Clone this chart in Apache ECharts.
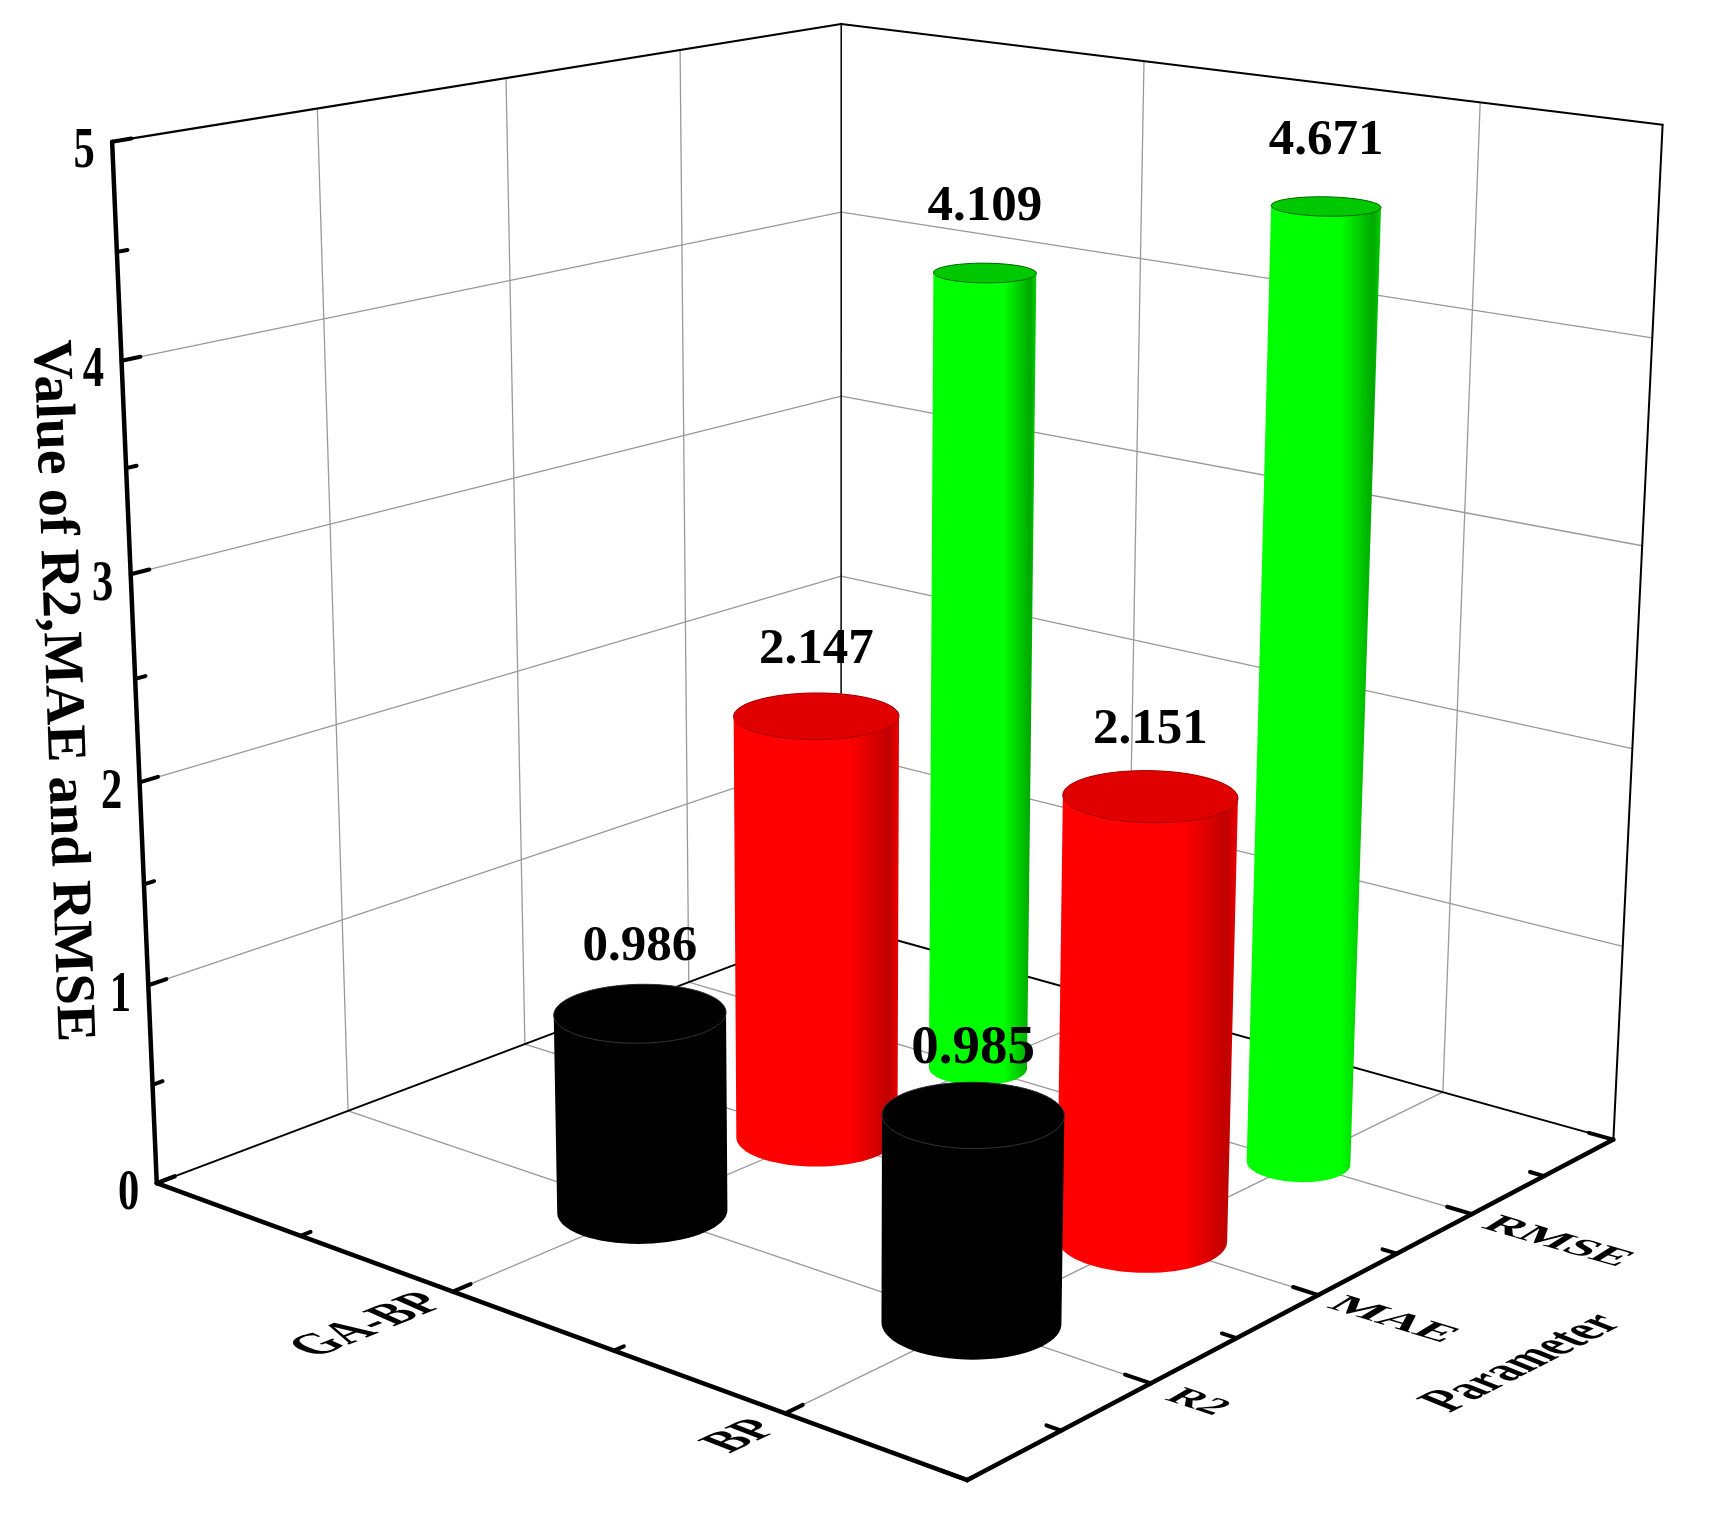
<!DOCTYPE html>
<html>
<head>
<meta charset="utf-8">
<title>Value of R2, MAE and RMSE</title>
<script src="https://cdn.jsdelivr.net/npm/echarts@6/dist/echarts.min.js"></script>
<style>
html, body { margin: 0; padding: 0; background: #fff; }
#chart { width: 1720px; height: 1515px; }
</style>
</head>
<body>
<div id="chart"></div>
<script>
// data
var categories = ['GA-BP', 'BP'];
var parameters = ['R2', 'MAE', 'RMSE'];
var r2Values = [0.986, 0.985];
var maeValues = [2.147, 2.151];
var rmseValues = [4.109, 4.671];
var valueTicks = [0, 1, 2, 3, 4, 5];

// axis ranges of the box
var xMax = 2.5, dMax = 4, hMax = 5;
var FONT = '"Liberation Serif", "Times New Roman", serif';

// echarts has no 3d axes without GL, so the box is a pinhole camera fitted to
// where its corners sit in the picture: [x, depth, height, px, py]
var anchors = [
    [0, 0, 0, 156.5, 1183], [2.5, 0, 0, 968, 1481], [2.5, 4, 0, 1614, 1139], [0, 4, 0, 841, 925],
    [0, 0, 5, 112, 141], [0, 4, 5, 841, 24], [2.5, 4, 5, 1663, 125],
    [0, 0, 4, 122, 361], [2.5, 4, 4, 1652, 338], [0, 4, 4, 841, 212],
    [1, 0, 0, 454, 1292], [2, 0, 0, 784, 1413],
    [2.5, 1, 0, 1150, 1383], [2.5, 2, 0, 1318.6, 1295], [2.5, 3, 0, 1472, 1214]
];

function solve(A, b) {
    var n = b.length, i, j, k;
    for (i = 0; i < n; i++) {
        var best = i;
        for (j = i + 1; j < n; j++) if (Math.abs(A[j][i]) > Math.abs(A[best][i])) best = j;
        var t = A[i]; A[i] = A[best]; A[best] = t;
        t = b[i]; b[i] = b[best]; b[best] = t;
        for (j = i + 1; j < n; j++) {
            var f = A[j][i] / A[i][i];
            for (k = i; k < n; k++) A[j][k] -= f * A[i][k];
            b[j] -= f * b[i];
        }
    }
    var out = [];
    for (i = n - 1; i >= 0; i--) {
        var s = b[i];
        for (k = i + 1; k < n; k++) s -= A[i][k] * out[k];
        out[i] = s / A[i][i];
    }
    return out;
}

function fitCamera() {
    var N = [], r = [], i, j;
    for (i = 0; i < 11; i++) { N.push(new Array(11).fill(0)); r.push(0); }
    function add(row, val) {
        for (var a = 0; a < 11; a++) {
            r[a] += row[a] * val;
            for (var c = 0; c < 11; c++) N[a][c] += row[a] * row[c];
        }
    }
    anchors.forEach(function (q) {
        var X = q[0] / xMax, Y = q[1] / dMax, Z = q[2] / hMax, u = q[3] / 1000, v = q[4] / 1000;
        add([X, Y, Z, 1, 0, 0, 0, 0, -u * X, -u * Y, -u * Z], u);
        add([0, 0, 0, 0, X, Y, Z, 1, -v * X, -v * Y, -v * Z], v);
    });
    return solve(N, r);
}
var cam = fitCamera();

function project(x, d, h) {
    var X = x / xMax, Y = d / dMax, Z = h / hMax;
    var w = cam[8] * X + cam[9] * Y + cam[10] * Z + 1;
    return [
        1000 * (cam[0] * X + cam[1] * Y + cam[2] * Z + cam[3]) / w,
        1000 * (cam[4] * X + cam[5] * Y + cam[6] * Z + cam[7]) / w
    ];
}

function line3(a, b, color, width) {
    var p = project(a[0], a[1], a[2]), q = project(b[0], b[1], b[2]);
    return {
        type: 'line',
        shape: { x1: p[0], y1: p[1], x2: q[0], y2: q[1] },
        style: { stroke: color, lineWidth: width, lineCap: 'round' }
    };
}

function label(text, x, y, size, rot, sx, sy, skew) {
    return {
        type: 'text', x: x, y: y, rotation: (rot || 0) * Math.PI / 180,
        scaleX: sx || 1, scaleY: sy || 1, skewX: (skew || 0) * Math.PI / 180,
        style: {
            text: text, fill: '#000', font: 'bold ' + size + 'px ' + FONT,
            textAlign: 'center', textVerticalAlign: 'middle'
        }
    };
}

function renderFrame() {
    var kids = [], GRID = '#999999', v, p;
    // walls and floor grid
    valueTicks.slice(1, 5).forEach(function (h) {
        kids.push(line3([0, 0, h], [0, dMax, h], GRID, 1.3));
        kids.push(line3([0, dMax, h], [xMax, dMax, h], GRID, 1.3));
    });
    parameters.forEach(function (n, i) {
        kids.push(line3([0, i + 1, 0], [0, i + 1, hMax], GRID, 1.3));
        kids.push(line3([0, i + 1, 0], [xMax, i + 1, 0], GRID, 1.3));
    });
    categories.forEach(function (n, i) {
        kids.push(line3([i + 1, dMax, 0], [i + 1, dMax, hMax], GRID, 1.3));
        kids.push(line3([i + 1, 0, 0], [i + 1, dMax, 0], GRID, 1.3));
    });
    // box edges
    kids.push(line3([0, 0, 0], [0, dMax, 0], '#000', 2));
    kids.push(line3([0, dMax, 0], [xMax, dMax, 0], '#000', 2));
    kids.push(line3([0, dMax, 0], [0, dMax, hMax], '#000', 1.5));
    kids.push(line3([xMax, dMax, 0], [xMax, dMax, hMax], '#000', 2));
    kids.push(line3([0, 0, hMax], [0, dMax, hMax], '#000', 2.2));
    kids.push(line3([0, dMax, hMax], [xMax, dMax, hMax], '#000', 2));
    // thick axes
    kids.push(line3([0, 0, 0], [0, 0, hMax], '#000', 4.5));
    kids.push(line3([0, 0, 0], [xMax, 0, 0], '#000', 4.5));
    kids.push(line3([xMax, 0, 0], [xMax, dMax, 0], '#000', 4.5));
    // ticks
    for (v = 0; v <= hMax; v += 0.5) {
        kids.push(line3([0, 0, v], [0, v % 1 ? 0.05 : 0.09, v], '#000', 4));
    }
    for (v = 0; v <= xMax; v += 0.5) {
        kids.push(line3([v, 0, 0], [v, v % 1 ? 0.05 : 0.09, 0], '#000', 4));
    }
    for (v = 0; v <= dMax; v += 0.5) {
        kids.push(line3([xMax, v, 0], [xMax - (v % 1 ? 0.04 : 0.07), v, 0], '#000', 4));
    }
    // tick labels, the floor ones are sheared to lie along the floor
    valueTicks.forEach(function (h) {
        p = project(0, 0, h);
        kids.push(label(String(h), p[0] - 28, p[1] + 11, 56, 0, 0.76, 1));
    });
    p = project(1, 0, 0);
    kids.push(label(categories[0], p[0] - 84, p[1] + 34, 39, 22, 1.18, 1, 44));
    p = project(2, 0, 0);
    kids.push(label(categories[1], p[0] - 43, p[1] + 23, 39, 25, 1.15, 1, 44));
    p = project(xMax, 1, 0);
    kids.push(label(parameters[0], p[0] + 46, p[1] + 19, 29, -18, 1.5, 0.95, -42));
    p = project(xMax, 2, 0);
    kids.push(label(parameters[1], p[0] + 74, p[1] + 25, 29, -17, 1.82, 0.95, -42));
    p = project(xMax, 3, 0);
    kids.push(label(parameters[2], p[0] + 85, p[1] + 28, 29, -16, 1.72, 0.95, -42));
    // axis titles
    kids.push(label('Value of R2,MAE and RMSE', 61, 691, 56, -88, 1, 1));
    kids.push(label('Parameter', 1523, 1363, 43, 27, 1, 1, 41));
    return { type: 'group', children: kids };
}

function hull(points) {
    var pts = points.slice().sort(function (a, b) { return a[0] - b[0] || a[1] - b[1]; });
    function cross(o, a, b) { return (a[0] - o[0]) * (b[1] - o[1]) - (a[1] - o[1]) * (b[0] - o[0]); }
    var lo = [], up = [], i;
    for (i = 0; i < pts.length; i++) {
        while (lo.length > 1 && cross(lo[lo.length - 2], lo[lo.length - 1], pts[i]) <= 0) lo.pop();
        lo.push(pts[i]);
    }
    for (i = pts.length - 1; i >= 0; i--) {
        while (up.length > 1 && cross(up[up.length - 2], up[up.length - 1], pts[i]) <= 0) up.pop();
        up.push(pts[i]);
    }
    return lo.slice(0, -1).concat(up.slice(0, -1));
}

// one look per parameter: R2, MAE, RMSE
var barRadius = [0.08, 0.079, 0.05];
var barSide = [
    ['#000000', '#000000', '#000000'],
    ['#ff0000', '#c00000', '#ee0000'],
    ['#00ff00', '#00a800', '#00d000']
];
var barCap = ['#000000', '#e00000', '#00c800'];
var barCapLine = ['#333333', '#a80000', '#006800'];

function renderBar(params, api) {
    var x = api.value(0), d = api.value(1), h = api.value(2), kind = api.value(3);
    var rx = barRadius[kind] * xMax, rd = barRadius[kind] * dMax;
    var base = [], top = [], i;
    for (i = 0; i < 72; i++) {
        var a = i / 72 * Math.PI * 2;
        base.push(project(x + rx * Math.cos(a), d + rd * Math.sin(a), 0));
        top.push(project(x + rx * Math.cos(a), d + rd * Math.sin(a), h));
    }
    var all = base.concat(top);
    var minX = Math.min.apply(null, all.map(function (p) { return p[0]; }));
    var maxX = Math.max.apply(null, all.map(function (p) { return p[0]; }));
    var c = barSide[kind];
    return {
        type: 'group',
        children: [{
            type: 'polygon',
            shape: { points: hull(all) },
            style: {
                fill: {
                    type: 'linear', global: true, x: minX, y: 0, x2: maxX, y2: 0,
                    colorStops: [
                        { offset: 0, color: c[0] }, { offset: 0.7, color: c[0] },
                        { offset: 0.94, color: c[1] }, { offset: 1, color: c[2] }
                    ]
                }
            }
        }, {
            type: 'polygon',
            shape: { points: top },
            style: { fill: barCap[kind], stroke: barCapLine[kind], lineWidth: 1 }
        }]
    };
}

function renderValue(params, api) {
    var p = project(api.value(0), api.value(1), api.value(2));
    // the nearest label is printed a little larger
    var size = api.value(0) === 2 && api.value(1) === 1 ? 55 : 51;
    return label(api.value(2).toFixed(3), p[0], p[1] - 66, size);
}

// far row first so nearer cylinders paint over it
var rows = [r2Values, maeValues, rmseValues];
var barData = [];
for (var r = rows.length - 1; r >= 0; r--) {
    for (var c = 0; c < categories.length; c++) {
        barData.push([c + 1, r + 1, rows[r][c], r]);
    }
}

var myChart = echarts.init(document.getElementById('chart'));
var option = {
    backgroundColor: '#fff',
    animation: false,
    series: [
        { type: 'custom', coordinateSystem: 'none', silent: true, z: 1, data: [[0]], renderItem: renderFrame },
        { type: 'custom', coordinateSystem: 'none', silent: true, z: 2, data: barData, renderItem: renderBar },
        { type: 'custom', coordinateSystem: 'none', silent: true, z: 3, data: barData, renderItem: renderValue }
    ]
};
myChart.setOption(option);
</script>
</body>
</html>
